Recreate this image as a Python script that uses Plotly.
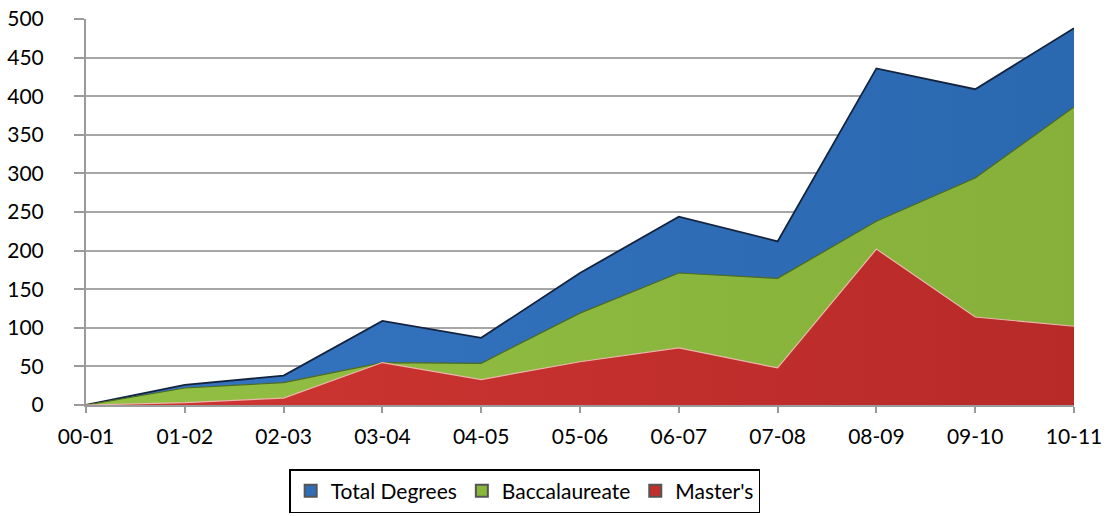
import plotly.graph_objects as go

years = ["00-01", "01-02", "02-03", "03-04", "04-05", "05-06",
         "06-07", "07-08", "08-09", "09-10", "10-11"]
total_degrees = [0, 26, 38, 109, 87, 171, 244, 212, 436, 409, 488]
baccalaureate = [0, 22, 29, 55, 54, 119, 171, 164, 238, 294, 386]
masters = [0, 3, 9, 55, 33, 56, 74, 48, 202, 114, 102]

series = [
    ("Total Degrees", total_degrees, "#2e6db7", ("#3574c0", "#2a68b0"), "#13233f", 1.8),
    ("Baccalaureate", baccalaureate, "#8ab63c", ("#92c043", "#86b03a"), "#4d6b22", 1.2),
    ("Master's", masters, "#c12f2c", ("#cf3632", "#b72a28"), "#eab7ad", 1.2),
]

fig = go.Figure()
for name, vals, fill, grad, line, lw in series:
    fig.add_trace(go.Scatter(
        x=years, y=vals, mode="lines", name=name, fill="tozeroy",
        fillcolor=fill,
        fillgradient=dict(type="horizontal",
                          colorscale=[[0, grad[0]], [1, grad[1]]]),
        line=dict(color=line, width=lw),
        showlegend=False, hoverinfo="x+y+name",
    ))
for name, vals, fill, grad, line, lw in series:
    fig.add_trace(go.Scatter(
        x=[None], y=[None], mode="markers", name=name,
        marker=dict(symbol="square", size=13, color=fill,
                    line=dict(color="#555555", width=1)),
    ))

font_family = "Lato, 'Open Sans', sans-serif"
fig.update_layout(
    width=1107, height=516,
    margin=dict(l=86, r=33, t=19, b=111, autoexpand=False),
    paper_bgcolor="white", plot_bgcolor="white",
    font=dict(family=font_family, size=21, color="black"),
    xaxis=dict(
        type="category", range=[0, 10], showgrid=False, automargin=False,
        showline=True, linecolor="#9a9a9a", linewidth=2,
        ticks="outside", ticklen=6, tickcolor="#9a9a9a", tickwidth=2,
        tickfont=dict(size=21), ticklabelstandoff=6,
        ticklabeloverflow="allow",
    ),
    yaxis=dict(
        range=[0, 500], dtick=50, showgrid=True, gridcolor="#a6a6a6",
        gridwidth=2, showline=True, linecolor="#9a9a9a", linewidth=2,
        ticks="outside", ticklen=10, tickcolor="#9a9a9a", tickwidth=2,
        zeroline=False, tickfont=dict(size=21), automargin=False,
        ticklabelstandoff=26, ticklabeloverflow="allow",
    ),
    legend=dict(
        orientation="h", x=0.444, xanchor="center", y=-0.166, yanchor="top",
        bordercolor="black", borderwidth=1.5, font=dict(size=21),
        itemsizing="constant",
    ),
)

# remove the default 8px page margin so the figure fills the window exactly
fig.write_html("out.html", config={"displayModeBar": False},
               post_script="document.body.style.margin='0';")
